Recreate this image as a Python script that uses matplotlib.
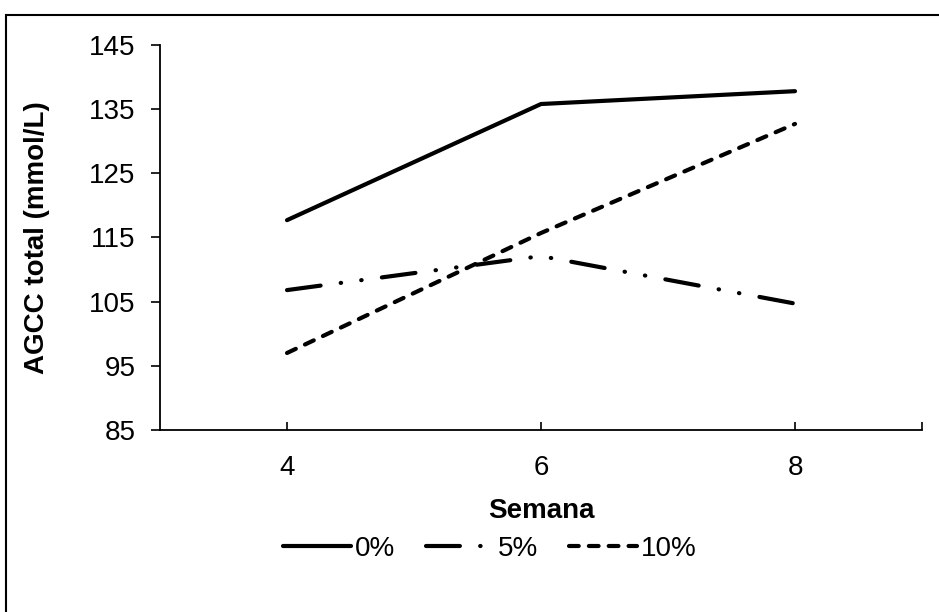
import matplotlib
matplotlib.use("Agg")
import matplotlib.pyplot as plt
from matplotlib.patches import Rectangle

plt.rcParams['font.family'] = ['Liberation Sans', 'DejaVu Sans']
plt.rcParams['lines.scale_dashes'] = False

semanas = [4, 6, 8]
agcc_0 = [117.7, 135.8, 137.8]
agcc_5 = [106.8, 112.1, 104.7]
agcc_10 = [97.0, 115.7, 132.7]
y_ticks = [85, 95, 105, 115, 125, 135, 145]

fig = plt.figure(figsize=(9.39, 6.12), dpi=100)
ax = fig.add_axes([0.1704, 0.2974, 0.8115, 0.6291])

lw = 3.0
ax.plot(semanas, agcc_0, color='black', lw=lw, solid_capstyle='round',
        solid_joinstyle='round', label='0%')
ax.plot(semanas, agcc_5, color='black', lw=lw, dash_capstyle='round',
        dashes=(24.4, 14.6, 0.3, 14.6, 0.3, 14.7), label='5%')
ax.plot(semanas, agcc_10, color='black', lw=lw, dash_capstyle='round',
        dashes=(7.0, 7.3), label='10%')

ax.set_xlim(3, 9)
ax.set_ylim(85, 145)
ax.set_yticks(y_ticks)
ax.set_xticks([4, 6, 8, 9])
ax.set_xticklabels(['4', '6', '8', ''])

for side in ['top', 'right']:
    ax.spines[side].set_visible(False)
for side in ['left', 'bottom']:
    ax.spines[side].set_linewidth(1.3)

ax.tick_params(axis='y', direction='out', length=6.5, width=1.2, pad=11, labelsize=20)
ax.tick_params(axis='x', direction='in', length=6, width=1.2, pad=18, labelsize=20)

ax.set_xlabel('Semana', fontsize=20, fontweight='bold', labelpad=12)
ax.set_ylabel('AGCC total (mmol/L)', fontsize=20, fontweight='bold', labelpad=28)

fig.legend(loc='center', bbox_to_anchor=(490 / 939, 1 - 549 / 612), ncol=3,
           frameon=False, fontsize=20, handlelength=2.45, handletextpad=0.15,
           columnspacing=1.1)

# marco exterior del gráfico
fig.patches.append(Rectangle((6 / 939, -0.05), 1.1, 1 - 15 / 612 + 0.05,
                             transform=fig.transFigure, fill=False,
                             lw=1.5, ec='black'))

fig.savefig('out.png', dpi=100)
